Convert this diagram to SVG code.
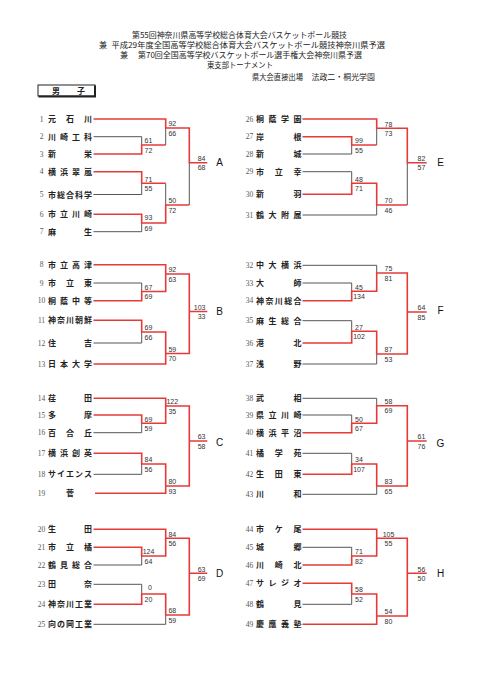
<svg xmlns="http://www.w3.org/2000/svg" width="481" height="680" viewBox="0 0 481 680">
<style>
.hd{font-family:"Noto Sans CJK JP","Noto Sans CJK SC",sans-serif;font-size:8px;fill:#222}
.no{font-family:"Liberation Serif",serif;font-size:7.5px;fill:#555;text-anchor:middle}
.nm{font-family:"Noto Sans CJK JP","Noto Sans CJK SC",sans-serif;font-size:8px;font-weight:700;fill:#222}
.sc{font-family:"Liberation Sans",Arial,sans-serif;font-size:7px;fill:#333}
.l1{text-anchor:middle}
.fl{text-anchor:end}
.lt{font-family:"Liberation Sans",Arial,sans-serif;font-size:10px;fill:#111;text-anchor:middle}
.g{fill:none;stroke:#555;stroke-width:1}
.r{fill:none;stroke:#e63a3a;stroke-width:1.6}
</style>
<rect width="481" height="680" fill="#fff"/>
<g id="header">
<text class="hd" x="132" y="38" textLength="215" lengthAdjust="spacingAndGlyphs">第55回神奈川県高等学校総合体育大会バスケットボール競技</text>
<text class="hd" x="99" y="48">兼</text>
<text class="hd" x="111.5" y="48" textLength="273.5" lengthAdjust="spacingAndGlyphs">平成29年度全国高等学校総合体育大会バスケットボール競技神奈川県予選</text>
<text class="hd" x="120" y="58">兼</text>
<text class="hd" x="138" y="58" textLength="224" lengthAdjust="spacingAndGlyphs">第70回全国高等学校バスケットボール選手権大会神奈川県予選</text>
<text class="hd" x="207" y="68" textLength="66" lengthAdjust="spacingAndGlyphs">東支部トーナメント</text>
<text class="hd" x="252" y="80" textLength="51" lengthAdjust="spacingAndGlyphs">県大会直接出場</text>
<text class="hd" x="311.5" y="80" textLength="63.5" lengthAdjust="spacingAndGlyphs">法政二・桐光学園</text>
</g>
<g id="boys">
<rect x="38" y="85" width="57" height="11" fill="#fff" stroke="#222" stroke-width="1"/>
<path d="M95,85.5 V96.5 H38.5" fill="none" stroke="#222" stroke-width="2"/>
<text class="nm" x="56" y="93.8" text-anchor="middle">男</text>
<text class="nm" x="81" y="93.8" text-anchor="middle">子</text>
</g>
<g id="connectors">
<g id="gray">
<path class="g" d="M93.5,136.7H141.7V145M93.5,194.5H141.7V183.3M93.5,231.7H141.7V223M165.7,145V128M165.7,183.3V205M189.3,205V162.7"/>
<path class="g" d="M93.5,283H141.7V291.5M93.5,343H141.7V332"/>
<path class="g" d="M93.5,432.7H141.7V423.3M93.5,474.3H141.7V464"/>
<path class="g" d="M93.5,565H141.7V556M93.5,584.3H141.7V594M93.5,624.3H165.7V615"/>
<path class="g" d="M302.5,154H351.7V145M302.5,171.7H351.7V183.3M302.5,215H376.7V205M376.7,145V128.3M407.3,205V162.7"/>
<path class="g" d="M302.5,265.3H376.7V273M302.5,283H351.7V291.3M302.5,320.7H351.7V331.3M302.5,364H376.7V354"/>
<path class="g" d="M302.5,398.3H376.7V405.7M302.5,415H351.7V423.3M302.5,453.3H351.7V464M302.5,494.3H376.7V486"/>
<path class="g" d="M302.5,547.3H351.7V556M302.5,604.3H351.7V594"/>
</g>
<g id="red">
<path class="r" d="M93.5,119H165.7V128H189.3V162.7H207.3M93.5,154H141.7V145H165.7M93.5,171.7H141.7V183.3H165.7M93.5,214.3H141.7V223H165.7V205H189.3"/>
<path class="r" d="M93.5,264.7H165.7V274H189.3V311.5H207.3M93.5,300.7H141.7V291.5H165.7V274M93.5,320.3H141.7V332H165.7V353.5M93.5,364H165.7V353.5H189.3V311.5"/>
<path class="r" d="M93.5,398.3H165.7V406H189.3V441H207.3M93.5,415H141.7V423.3H165.7V406M93.5,453.3H141.7V464H165.7V486M95,493.3H165.7V486H189.3V441"/>
<path class="r" d="M93.5,529.3H165.7V538.3H189.3V573.3M93.5,547.3H141.7V556H165.7V538.3M93.5,604.3H141.7V594H165.7V615H189.3V573.3H207.3"/>
<path class="r" d="M302.5,119H376.7V128.3H407.3V162.7H426.7M302.5,136.7H351.7V145H376.7M302.5,194.3H351.7V183.3H376.7V205H407.3"/>
<path class="r" d="M302.5,300.7H351.7V291.3H376.7V273H407.3V312M302.5,343H351.7V331.3H376.7V354H407.3V312H426.7"/>
<path class="r" d="M302.5,432.7H351.7V423.3H376.7V405.7H407.3V441M302.5,474.3H351.7V464H376.7V486H407.3V441H426.7"/>
<path class="r" d="M302.5,529.3H376.7V538.3H407.3V573.3H426.7M302.5,565H351.7V556H376.7V538.3M302.5,583.3H351.7V594H376.7V616M302.5,624.3H376.7V616H407.3V573.3"/>
</g>
</g>
<g id="teams">
<g id="t1"><text class="no" x="41.5" y="121.5">1</text><text class="nm" x="48" y="122" textLength="44" lengthAdjust="spacing">元石川</text></g>
<g id="t2"><text class="no" x="41.5" y="139.2">2</text><text class="nm" x="48" y="139.7" textLength="44" lengthAdjust="spacing">川崎工科</text></g>
<g id="t3"><text class="no" x="41.5" y="156.5">3</text><text class="nm" x="48" y="157" textLength="44" lengthAdjust="spacing">新栄</text></g>
<g id="t4"><text class="no" x="41.5" y="174.2">4</text><text class="nm" x="48" y="174.7" textLength="44" lengthAdjust="spacing">横浜翠嵐</text></g>
<g id="t5"><text class="no" x="41.5" y="197">5</text><text class="nm" x="48" y="197.5" textLength="44" lengthAdjust="spacing">市総合科学</text></g>
<g id="t6"><text class="no" x="41.5" y="216.8">6</text><text class="nm" x="48" y="217.3" textLength="44" lengthAdjust="spacing">市立川崎</text></g>
<g id="t7"><text class="no" x="41.5" y="234.2">7</text><text class="nm" x="48" y="234.7" textLength="44" lengthAdjust="spacing">麻生</text></g>
<g id="t8"><text class="no" x="41.5" y="267.2">8</text><text class="nm" x="48" y="267.7" textLength="44" lengthAdjust="spacing">市立高津</text></g>
<g id="t9"><text class="no" x="41.5" y="285.5">9</text><text class="nm" x="48" y="286" textLength="44" lengthAdjust="spacing">市立東</text></g>
<g id="t10"><text class="no" x="41.5" y="303.2">10</text><text class="nm" x="48" y="303.7" textLength="44" lengthAdjust="spacing">桐蔭中等</text></g>
<g id="t11"><text class="no" x="41.5" y="322.8">11</text><text class="nm" x="48" y="323.3" textLength="44" lengthAdjust="spacing">神奈川朝鮮</text></g>
<g id="t12"><text class="no" x="41.5" y="345.5">12</text><text class="nm" x="48" y="346" textLength="44" lengthAdjust="spacing">住吉</text></g>
<g id="t13"><text class="no" x="41.5" y="366.5">13</text><text class="nm" x="48" y="367" textLength="44" lengthAdjust="spacing">日本大学</text></g>
<g id="t14"><text class="no" x="41.5" y="400.8">14</text><text class="nm" x="48" y="401.3" textLength="44" lengthAdjust="spacing">荏田</text></g>
<g id="t15"><text class="no" x="41.5" y="417.5">15</text><text class="nm" x="48" y="418" textLength="44" lengthAdjust="spacing">多摩</text></g>
<g id="t16"><text class="no" x="41.5" y="435.2">16</text><text class="nm" x="48" y="435.7" textLength="44" lengthAdjust="spacing">百合丘</text></g>
<g id="t17"><text class="no" x="41.5" y="455.8">17</text><text class="nm" x="48" y="456.3" textLength="44" lengthAdjust="spacing">横浜創英</text></g>
<g id="t18"><text class="no" x="41.5" y="476.8">18</text><text class="nm" x="48" y="477.3" textLength="44" lengthAdjust="spacing">サイエンス</text></g>
<g id="t19"><text class="no" x="41.5" y="495.8">19</text><text class="nm" x="70" y="496.3" text-anchor="middle">菅</text></g>
<g id="t20"><text class="no" x="41.5" y="531.8">20</text><text class="nm" x="48" y="532.3" textLength="44" lengthAdjust="spacing">生田</text></g>
<g id="t21"><text class="no" x="41.5" y="549.8">21</text><text class="nm" x="48" y="550.3" textLength="44" lengthAdjust="spacing">市立橘</text></g>
<g id="t22"><text class="no" x="41.5" y="567.5">22</text><text class="nm" x="48" y="568" textLength="44" lengthAdjust="spacing">鶴見総合</text></g>
<g id="t23"><text class="no" x="41.5" y="586.8">23</text><text class="nm" x="48" y="587.3" textLength="44" lengthAdjust="spacing">田奈</text></g>
<g id="t24"><text class="no" x="41.5" y="606.8">24</text><text class="nm" x="48" y="607.3" textLength="44" lengthAdjust="spacing">神奈川工業</text></g>
<g id="t25"><text class="no" x="41.5" y="626.8">25</text><text class="nm" x="48" y="627.3" textLength="44" lengthAdjust="spacing">向の岡工業</text></g>
<g id="t26"><text class="no" x="249.5" y="121.5">26</text><text class="nm" x="256" y="122" textLength="45.5" lengthAdjust="spacing">桐蔭学園</text></g>
<g id="t27"><text class="no" x="249.5" y="139.2">27</text><text class="nm" x="256" y="139.7" textLength="45.5" lengthAdjust="spacing">岸根</text></g>
<g id="t28"><text class="no" x="249.5" y="156.5">28</text><text class="nm" x="256" y="157" textLength="45.5" lengthAdjust="spacing">新城</text></g>
<g id="t29"><text class="no" x="249.5" y="174.2">29</text><text class="nm" x="256" y="174.7" textLength="45.5" lengthAdjust="spacing">市立幸</text></g>
<g id="t30"><text class="no" x="249.5" y="196.8">30</text><text class="nm" x="256" y="197.3" textLength="45.5" lengthAdjust="spacing">新羽</text></g>
<g id="t31"><text class="no" x="249.5" y="217.5">31</text><text class="nm" x="256" y="218" textLength="45.5" lengthAdjust="spacing">鶴大附属</text></g>
<g id="t32"><text class="no" x="249.5" y="267.8">32</text><text class="nm" x="256" y="268.3" textLength="45.5" lengthAdjust="spacing">中大横浜</text></g>
<g id="t33"><text class="no" x="249.5" y="285.5">33</text><text class="nm" x="256" y="286" textLength="45.5" lengthAdjust="spacing">大師</text></g>
<g id="t34"><text class="no" x="249.5" y="303.2">34</text><text class="nm" x="256" y="303.7" textLength="45.5" lengthAdjust="spacing">神奈川総合</text></g>
<g id="t35"><text class="no" x="249.5" y="323.2">35</text><text class="nm" x="256" y="323.7" textLength="45.5" lengthAdjust="spacing">麻生総合</text></g>
<g id="t36"><text class="no" x="249.5" y="345.5">36</text><text class="nm" x="256" y="346" textLength="45.5" lengthAdjust="spacing">港北</text></g>
<g id="t37"><text class="no" x="249.5" y="366.5">37</text><text class="nm" x="256" y="367" textLength="45.5" lengthAdjust="spacing">浅野</text></g>
<g id="t38"><text class="no" x="249.5" y="400.8">38</text><text class="nm" x="256" y="401.3" textLength="45.5" lengthAdjust="spacing">武相</text></g>
<g id="t39"><text class="no" x="249.5" y="417.5">39</text><text class="nm" x="256" y="418" textLength="45.5" lengthAdjust="spacing">県立川崎</text></g>
<g id="t40"><text class="no" x="249.5" y="435.2">40</text><text class="nm" x="256" y="435.7" textLength="45.5" lengthAdjust="spacing">横浜平沼</text></g>
<g id="t41"><text class="no" x="249.5" y="455.8">41</text><text class="nm" x="256" y="456.3" textLength="45.5" lengthAdjust="spacing">橘学苑</text></g>
<g id="t42"><text class="no" x="249.5" y="476.8">42</text><text class="nm" x="256" y="477.3" textLength="45.5" lengthAdjust="spacing">生田東</text></g>
<g id="t43"><text class="no" x="249.5" y="496.8">43</text><text class="nm" x="256" y="497.3" textLength="45.5" lengthAdjust="spacing">川和</text></g>
<g id="t44"><text class="no" x="249.5" y="531.8">44</text><text class="nm" x="256" y="532.3" textLength="45.5" lengthAdjust="spacing">市ケ尾</text></g>
<g id="t45"><text class="no" x="249.5" y="549.8">45</text><text class="nm" x="256" y="550.3" textLength="45.5" lengthAdjust="spacing">城郷</text></g>
<g id="t46"><text class="no" x="249.5" y="567.5">46</text><text class="nm" x="256" y="568" textLength="45.5" lengthAdjust="spacing">川崎北</text></g>
<g id="t47"><text class="no" x="249.5" y="585.8">47</text><text class="nm" x="256" y="586.3" textLength="45.5" lengthAdjust="spacing">サレジオ</text></g>
<g id="t48"><text class="no" x="249.5" y="606.8">48</text><text class="nm" x="256" y="607.3" textLength="45.5" lengthAdjust="spacing">鶴見</text></g>
<g id="t49"><text class="no" x="249.5" y="626.8">49</text><text class="nm" x="256" y="627.3" textLength="45.5" lengthAdjust="spacing">慶應義塾</text></g>
</g>
<g id="scores">
<g class="sc l1">
<text x="148.5" y="143.2">61</text><text x="148.5" y="152.5">72</text>
<text x="172.3" y="126.2">92</text><text x="172.3" y="135.5">66</text>
<text x="148.5" y="181.5">71</text><text x="148.5" y="190.8">55</text>
<text x="148.5" y="219.5">93</text><text x="148.5" y="230.5">69</text>
<text x="172.3" y="203.2">50</text><text x="172.3" y="212.5">72</text>
<text x="148.5" y="289.7">67</text><text x="148.5" y="299">69</text>
<text x="172.3" y="272.2">92</text><text x="172.3" y="281.5">63</text>
<text x="148.5" y="330.2">69</text><text x="148.5" y="339.5">66</text>
<text x="172.3" y="351.7">59</text><text x="172.3" y="361">70</text>
<text x="148.5" y="421.5">69</text><text x="148.5" y="430.8">59</text>
<text x="172.3" y="404.2">122</text><text x="172.3" y="413.5">35</text>
<text x="148.5" y="462.2">84</text><text x="148.5" y="471.5">56</text>
<text x="172.3" y="484.2">80</text><text x="172.3" y="493.5">93</text>
<text x="148.5" y="554.2">124</text><text x="148.5" y="563.5">64</text>
<text x="172.3" y="536.5">84</text><text x="172.3" y="545.8">56</text>
<text x="150" y="590">0</text><text x="148.5" y="601.5">20</text>
<text x="172.3" y="613.2">68</text><text x="172.3" y="622.5">59</text>
<text x="359" y="143.2">99</text><text x="359" y="152.5">55</text>
<text x="388.5" y="126.5">78</text><text x="388.5" y="135.8">73</text>
<text x="359" y="181.5">48</text><text x="359" y="190.8">71</text>
<text x="388.5" y="203.2">70</text><text x="388.5" y="212.5">46</text>
<text x="359" y="289.5">45</text><text x="359" y="298.8">134</text>
<text x="388.5" y="271.2">75</text><text x="388.5" y="280.5">81</text>
<text x="359" y="329.5">27</text><text x="359" y="338.8">102</text>
<text x="388.5" y="352.2">87</text><text x="388.5" y="361.5">53</text>
<text x="359" y="421.5">50</text><text x="359" y="430.8">67</text>
<text x="388.5" y="403.9">58</text><text x="388.5" y="413.2">69</text>
<text x="359" y="462.2">34</text><text x="359" y="471.5">107</text>
<text x="388.5" y="484.2">83</text><text x="388.5" y="493.5">65</text>
<text x="359" y="554.2">71</text><text x="359" y="563.5">82</text>
<text x="388.5" y="536.5">105</text><text x="388.5" y="545.8">55</text>
<text x="359" y="592.2">58</text><text x="359" y="601.5">52</text>
<text x="388.5" y="614.2">54</text><text x="388.5" y="623.5">80</text>
<text x="421.5" y="160.9">82</text><text x="421.5" y="169.5">57</text>
<text x="421.5" y="310.2">64</text><text x="421.5" y="319.5">85</text>
<text x="421.5" y="439.2">61</text><text x="421.5" y="448.5">76</text>
<text x="421.5" y="571.5">56</text><text x="421.5" y="580.8">50</text>
</g>
<g class="sc fl">
<text x="205.5" y="160.9">84</text><text x="205.5" y="169.5">68</text>
<text x="205.5" y="309.7">103</text><text x="205.5" y="319">33</text>
<text x="205.5" y="439.2">63</text><text x="205.5" y="448.5">58</text>
<text x="205.5" y="571.5">63</text><text x="205.5" y="580.8">69</text>
</g>
</g>
<g id="blocks">
<text class="lt" x="219.5" y="166.3">A</text>
<text class="lt" x="219.5" y="315">B</text>
<text class="lt" x="219.5" y="445.8">C</text>
<text class="lt" x="219.5" y="576.9">D</text>
<text class="lt" x="440.5" y="166.3">E</text>
<text class="lt" x="440.5" y="314.3">F</text>
<text class="lt" x="440.5" y="446.8">G</text>
<text class="lt" x="440.5" y="576.9">H</text>
</g>
</svg>
